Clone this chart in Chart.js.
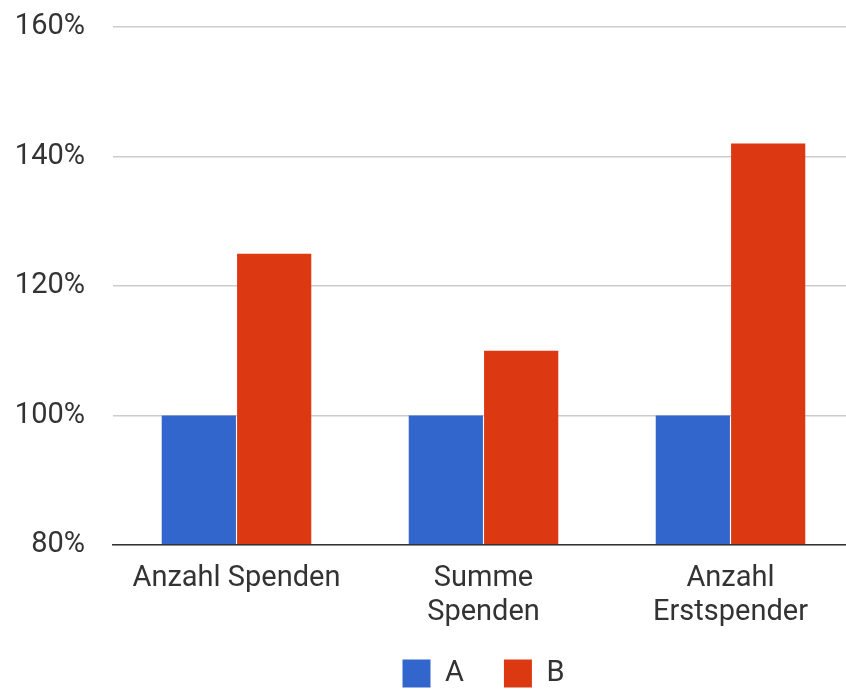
<!DOCTYPE html>
<html>
<head>
<meta charset="utf-8">
<script src="https://cdn.jsdelivr.net/npm/chart.js@4"></script>
<style>
  html, body { margin: 0; padding: 0; background: #fff; overflow: hidden; }
  #wrap { width: 846px; height: 689px; overflow: hidden; position: relative; }
  #box { width: 854px; height: 698px; position: absolute; left: 0; top: 0; }
</style>
</head>
<body>
<div id="wrap"><div id="box"><canvas id="chart-area"></canvas></div></div>
<script>
// data
var categories = ['Anzahl Spenden', ['Summe', 'Spenden'], ['Anzahl', 'Erstspender']];
var seriesA = [100, 100, 100];
var seriesB = [125, 110, 142];
var yTicks = [80, 100, 120, 140, 160];

var font = 'Roboto, "Liberation Sans", Arial, sans-serif';

var config = {
    type: 'bar',
    data: {
        labels: categories,
        datasets: [{
            label: 'A',
            data: seriesA,
            backgroundColor: 'rgb(51, 102, 204)', // blue
            borderWidth: 0
        }, {
            label: 'B',
            data: seriesB,
            backgroundColor: 'rgb(220, 57, 18)', // red
            borderWidth: 0
        }]
    },
    options: {
        responsive: true,
        maintainAspectRatio: false,
        animation: false,
        categoryPercentage: 0.61,
        barPercentage: 0.985,
        layout: { padding: { top: 27, left: 0, right: 0, bottom: 0 } },
        plugins: {
            tooltip: { enabled: false },
            legend: {
                position: 'bottom',
                fullSize: false,
                labels: {
                    boxWidth: 28,
                    boxHeight: 28,
                    padding: 40,
                    color: '#333',
                    font: { family: font, size: 29 }
                }
            }
        },
        scales: {
            x: {
                grid: { display: false, drawTicks: false },
                border: { display: true, color: '#333', width: 1.5, z: 1 },
                ticks: {
                    padding: 16,
                    color: '#333',
                    font: { family: font, size: 29, lineHeight: 1.2 }
                },
                afterFit: function(scale) {
                    // two-line labels hang below a shorter axis box, don't clip them
                    scale.height = 74;
                    scale._computeLabelArea = function() {};
                }
            },
            y: {
                min: yTicks[0],
                max: yTicks[yTicks.length - 1],
                grid: {
                    color: '#cccccc',
                    lineWidth: 1.5,
                    tickLength: 28,
                    tickColor: 'rgba(0,0,0,0)'
                },
                border: { display: false },
                ticks: {
                    stepSize: 20,
                    padding: 0,
                    color: '#333',
                    font: { family: font, size: 29 },
                    callback: function(v) { return v + '%'; }
                },
                afterFit: function(scale) { scale.width = 113; }
            }
        }
    }
};

window.onload = function() {
    var ctx = document.getElementById('chart-area').getContext('2d');
    window.myBar = new Chart(ctx, config);
};
</script>
</body>
</html>
